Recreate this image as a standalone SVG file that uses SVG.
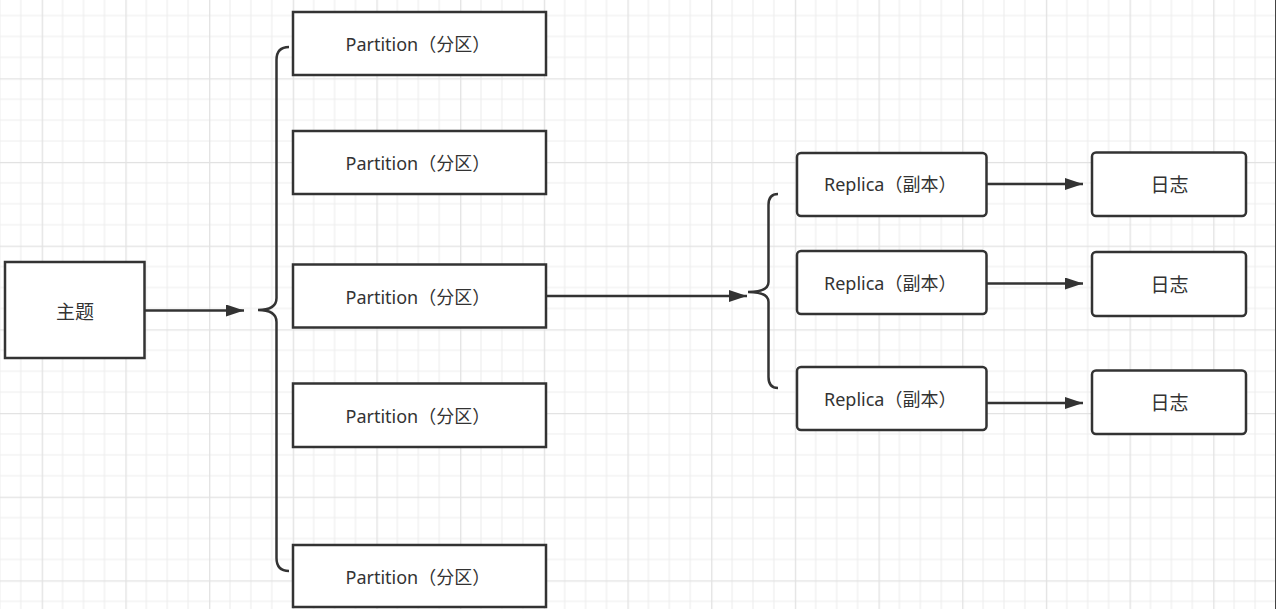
<svg xmlns="http://www.w3.org/2000/svg" width="1280" height="609" viewBox="0 0 1280 609">
<style>
.box{fill:#fff;stroke:#333;stroke-width:2.5}
.t{font-family:"Noto Sans","Noto Sans CJK SC",sans-serif;font-size:18px;fill:#333}
.c{font-family:"Noto Sans CJK SC","Noto Sans",sans-serif;font-size:19px;fill:#333;text-anchor:middle}
.ln{fill:none;stroke:#333;stroke-width:2.5}
</style>
<defs>
<pattern id="grid" patternUnits="userSpaceOnUse" x="41.7" y="78.3" width="83.68" height="83.68">
<path d="M20.92 0V83.68M41.84 0V83.68M62.76 0V83.68M0 20.92H83.68M0 41.84H83.68M0 62.76H83.68" stroke="#eeeeee" stroke-width="1.2" fill="none"/>
<path d="M0.6 0V83.68M0 0.6H83.68" stroke="#e2e2e2" stroke-width="1.4" fill="none"/>
</pattern>
<marker id="ah" markerUnits="userSpaceOnUse" markerWidth="20" markerHeight="14" refX="18" refY="6" orient="auto">
<path d="M0 0L18 6L0 12Z" fill="#333"/>
</marker>
</defs>
<rect width="1280" height="609" fill="#fff"/>
<rect width="1275" height="609" fill="url(#grid)"/>
<line x1="1275.5" y1="0" x2="1275.5" y2="609" stroke="#444" stroke-width="1"/>

<g id="connectors">
<line class="ln" x1="145" y1="310.5" x2="244" y2="310.5" marker-end="url(#ah)"/>
<path class="ln" d="M289 47Q276.5 47 276.5 60L276.5 298Q276.5 310 258 310Q276.5 310 276.5 322L276.5 558Q276.5 571 289 571"/>
<line class="ln" x1="546" y1="296" x2="747" y2="296" marker-end="url(#ah)"/>
<path class="ln" d="M778 194Q768.5 194 768.5 205L768.5 282Q768.5 292 748 292Q768.5 292 768.5 302L768.5 377Q768.5 388 778 388"/>
<line class="ln" x1="986" y1="184" x2="1083" y2="184" marker-end="url(#ah)"/>
<line class="ln" x1="986" y1="283.5" x2="1083" y2="283.5" marker-end="url(#ah)"/>
<line class="ln" x1="986" y1="403" x2="1083" y2="403" marker-end="url(#ah)"/>
</g>

<g id="topic"><rect class="box" x="5" y="262" width="139.5" height="96"/><text class="c" x="75" y="318.5">主题</text></g>

<g id="partition1"><rect class="box" x="293" y="12" width="253" height="63"/><text class="t" x="345.5" y="50.5">Partition（分区）</text></g>
<g id="partition2"><rect class="box" x="293" y="131" width="253" height="63"/><text class="t" x="345.5" y="169.5">Partition（分区）</text></g>
<g id="partition3"><rect class="box" x="293" y="264.5" width="253" height="63"/><text class="t" x="345.5" y="303.5">Partition（分区）</text></g>
<g id="partition4"><rect class="box" x="293" y="383.5" width="253" height="63.5"/><text class="t" x="345.5" y="422.5">Partition（分区）</text></g>
<g id="partition5"><rect class="box" x="293" y="545" width="253" height="62"/><text class="t" x="345.5" y="583.5">Partition（分区）</text></g>

<g id="replica1"><rect class="box" x="797" y="153" width="189.5" height="63" rx="4"/><text class="t" x="824" y="191">Replica（副本）</text></g>
<g id="replica2"><rect class="box" x="797" y="251" width="189.5" height="63" rx="4"/><text class="t" x="824" y="289.5">Replica（副本）</text></g>
<g id="replica3"><rect class="box" x="797" y="367" width="189.5" height="63" rx="4"/><text class="t" x="824" y="405.5">Replica（副本）</text></g>

<g id="log1"><rect class="box" x="1092" y="152.5" width="154" height="63.5" rx="4"/><text class="c" x="1169.5" y="191.5">日志</text></g>
<g id="log2"><rect class="box" x="1092" y="252" width="154" height="64" rx="4"/><text class="c" x="1169.5" y="291.5">日志</text></g>
<g id="log3"><rect class="box" x="1092" y="370.5" width="154" height="63.5" rx="4"/><text class="c" x="1169.5" y="410">日志</text></g>
</svg>
